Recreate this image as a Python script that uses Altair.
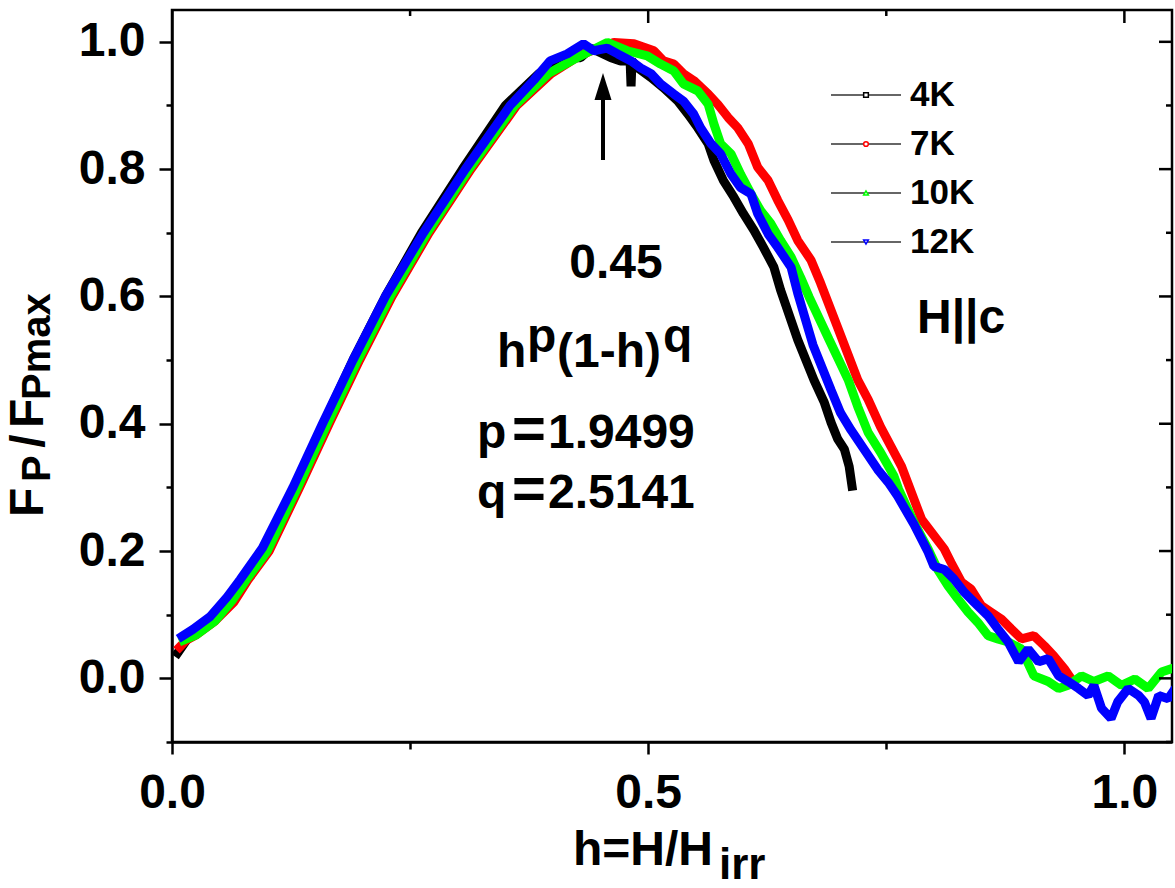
import altair as alt
import pandas as pd

FONT = "Liberation Sans"

# ---- data (h = H/Hirr, f = Fp/Fpmax) ----
h_4K = [0.006, 0.02, 0.04, 0.06, 0.075, 0.097, 0.128, 0.159, 0.19, 0.224, 0.262, 0.305, 0.35,
        0.385, 0.41, 0.429, 0.44, 0.461, 0.471, 0.481, 0.482, 0.483, 0.489, 0.503, 0.516, 0.531,
        0.542, 0.552, 0.563, 0.569, 0.579, 0.590, 0.600, 0.611, 0.621, 0.632, 0.639, 0.657,
        0.674, 0.685, 0.692, 0.699, 0.706, 0.711, 0.714]
f_4K = [0.04, 0.07, 0.095, 0.128, 0.155, 0.2, 0.3, 0.4, 0.5, 0.6, 0.7, 0.8, 0.9,
        0.95, 0.975, 0.975, 0.99, 0.975, 0.97, 0.97, 0.93, 0.97, 0.959, 0.944, 0.928, 0.907,
        0.886, 0.865, 0.840, 0.814, 0.782, 0.756, 0.730, 0.704, 0.677, 0.646, 0.610, 0.532,
        0.469, 0.433, 0.402, 0.376, 0.360, 0.333, 0.302]

h_7K = [0.008, 0.015, 0.025, 0.045, 0.065, 0.08, 0.102, 0.134, 0.165, 0.197, 0.231, 0.27, 0.314,
        0.362, 0.398, 0.43, 0.464, 0.485, 0.506, 0.516, 0.527, 0.537, 0.548, 0.563, 0.573,
        0.584, 0.594, 0.605, 0.615, 0.626, 0.636, 0.647, 0.657, 0.671, 0.681, 0.70, 0.720,
        0.731, 0.744, 0.755, 0.766, 0.787, 0.811, 0.818, 0.829, 0.839, 0.850, 0.860, 0.871,
        0.881, 0.892, 0.905, 0.916, 0.926, 0.937, 0.942]
f_7K = [0.049, 0.06, 0.068, 0.09, 0.12, 0.155, 0.2, 0.3, 0.4, 0.5, 0.6, 0.7, 0.8,
        0.9, 0.95, 0.98, 0.999, 0.997, 0.986, 0.970, 0.965, 0.950, 0.939, 0.918, 0.902,
        0.881, 0.865, 0.840, 0.803, 0.782, 0.751, 0.720, 0.688, 0.657, 0.621, 0.547, 0.469,
        0.438, 0.395, 0.364, 0.333, 0.25, 0.203, 0.182, 0.151, 0.140, 0.114, 0.104, 0.093,
        0.078, 0.062, 0.067, 0.051, 0.035, 0.015, 0.004]

h_10K = [0.012, 0.025, 0.045, 0.063, 0.078, 0.10, 0.132, 0.163, 0.195, 0.229, 0.268, 0.312, 0.36,
         0.395, 0.425, 0.457, 0.478, 0.499, 0.513, 0.527, 0.537, 0.552, 0.563, 0.569, 0.576,
         0.587, 0.597, 0.608, 0.618, 0.629, 0.639, 0.650, 0.660, 0.669, 0.690, 0.710, 0.720,
         0.731, 0.744, 0.758, 0.763, 0.779, 0.794, 0.804, 0.815, 0.825, 0.836, 0.846, 0.857,
         0.867, 0.878, 0.892, 0.905, 0.920, 0.931, 0.941, 0.955, 0.968, 0.983, 0.997, 1.011,
         1.025, 1.039, 1.049]
f_10K = [0.06, 0.068, 0.09, 0.122, 0.155, 0.2, 0.3, 0.4, 0.5, 0.6, 0.7, 0.8, 0.9,
         0.95, 0.975, 0.999, 0.986, 0.978, 0.965, 0.954, 0.934, 0.923, 0.902, 0.871, 0.840,
         0.824, 0.792, 0.761, 0.735, 0.714, 0.688, 0.662, 0.630, 0.599, 0.532, 0.469, 0.427,
         0.386, 0.355, 0.318, 0.297, 0.245, 0.203, 0.171, 0.145, 0.125, 0.104, 0.088, 0.067,
         0.062, 0.057, 0.046, 0.004, -0.005, -0.016, -0.011, 0.004, -0.005, 0.004, -0.011,
         -0.001, -0.016, 0.010, 0.015]

h_12K = [0.0105, 0.022, 0.04, 0.058, 0.0715, 0.095, 0.127, 0.158, 0.19, 0.224, 0.264, 0.308, 0.355,
         0.380, 0.397, 0.415, 0.432, 0.443, 0.457, 0.468, 0.482, 0.492, 0.503, 0.513, 0.527,
         0.537, 0.548, 0.555, 0.566, 0.576, 0.587, 0.597, 0.608, 0.615, 0.626, 0.636, 0.650,
         0.657, 0.673, 0.692, 0.702, 0.713, 0.727, 0.741, 0.752, 0.762, 0.779, 0.794, 0.800,
         0.811, 0.821, 0.832, 0.842, 0.857, 0.867, 0.878, 0.889, 0.899, 0.910, 0.920, 0.931,
         0.941, 0.952, 0.962, 0.968, 0.976, 0.986, 0.993, 1.004, 1.015, 1.021, 1.028, 1.036,
         1.046, 1.051]
f_12K = [0.066, 0.077, 0.097, 0.128, 0.155, 0.205, 0.3, 0.4, 0.5, 0.6, 0.7, 0.8, 0.9,
         0.94, 0.970, 0.981, 0.997, 0.986, 0.990, 0.981, 0.970, 0.959, 0.950, 0.934, 0.918,
         0.907, 0.886, 0.865, 0.840, 0.824, 0.792, 0.771, 0.761, 0.730, 0.698, 0.677, 0.646,
         0.605, 0.524, 0.453, 0.417, 0.390, 0.359, 0.328, 0.308, 0.286, 0.242, 0.198, 0.176,
         0.171, 0.156, 0.135, 0.120, 0.098, 0.078, 0.057, 0.026, 0.046, 0.026, 0.031, 0.004,
         -0.005, -0.016, -0.027, -0.011, -0.047, -0.063, -0.037, -0.016, -0.027, -0.037,
         -0.063, -0.027, -0.032, -0.021]

series = ["4K", "7K", "10K", "12K"]
colors = ["#000000", "#ff0000", "#00ff00", "#0000ff"]
shapes = ["square", "circle", "triangle-up", "triangle-down"]
curves = [(h_4K, f_4K), (h_7K, f_7K), (h_10K, f_10K), (h_12K, f_12K)]

x_ticks = [0.0, 0.25, 0.5, 0.75, 1.0]
y_ticks = [-0.1, 0.0, 0.1, 0.2, 0.3, 0.4, 0.5, 0.6, 0.7, 0.8, 0.9, 1.0]
x_major = [0.5, 1.0]
x_minor = [0.25, 0.75]
y_major = [0.0, 0.2, 0.4, 0.6, 0.8, 1.0]
y_minor = [-0.1, 0.1, 0.3, 0.5, 0.7, 0.9]

W, H = 1000, 732

xscale = alt.Scale(domain=[0, 1.05], nice=False, zero=False)
yscale = alt.Scale(domain=[-0.1, 1.05], nice=False, zero=False)

xm = "abs(datum.value*2-round(datum.value*2))<0.001"
ym = "abs(datum.value*5-round(datum.value*5))<0.001"

common_axis = dict(
    title=None, grid=False, domainColor="black", domainWidth=2.5,
    tickColor="black", tickWidth=2.5, labelFont=FONT, labelFontSize=48,
    labelFontWeight="bold", labelColor="black", labelOverlap=False, labelFlush=False,
)
xaxis = alt.Axis(values=x_ticks, labelExpr=f"{xm} ? format(datum.value, '.1f') : ''",
                 tickSize={"condition": {"test": xm, "value": 12}, "value": 7},
                 labelPadding=15, **common_axis)
yaxis = alt.Axis(values=y_ticks, labelExpr=f"{ym} ? format(datum.value, '.1f') : ''",
                 tickSize={"condition": {"test": ym, "value": 13}, "value": 6},
                 labelPadding=14, **common_axis)

layers = []
for (hh, ff), col in zip(curves, colors):
    df = pd.DataFrame({"h": hh, "f": ff, "i": list(range(len(hh)))})
    layers.append(
        alt.Chart(df).mark_line(color=col, strokeWidth=9, strokeJoin="bevel",
                                strokeCap="square", clip=True)
        .encode(x=alt.X("h:Q", scale=xscale, axis=xaxis),
                y=alt.Y("f:Q", scale=yscale, axis=yaxis),
                order="i:Q")
    )

# mirror ticks (top and right, inward)
for vals, ln in ((x_major, 13), (x_minor, 6)):
    layers.append(
        alt.Chart(pd.DataFrame({"h": vals})).mark_rule(color="black", strokeWidth=2.5)
        .encode(x=alt.X("h:Q", scale=xscale, axis=xaxis), y=alt.value(0), y2=alt.value(ln))
    )
for vals, ln in ((y_major, 13), (y_minor, 6)):
    layers.append(
        alt.Chart(pd.DataFrame({"f": vals})).mark_rule(color="black", strokeWidth=2.5)
        .encode(y=alt.Y("f:Q", scale=yscale, axis=yaxis), x=alt.value(W), x2=alt.value(W - ln))
    )

one = pd.DataFrame({"k": [0]})


def txt(s, x, y, size=48, align="left", baseline="alphabetic", angle=0):
    return alt.Chart(one).mark_text(
        text=s, align=align, baseline=baseline, angle=angle, font=FONT,
        fontSize=size, fontWeight="bold", color="black"
    ).encode(x=alt.value(x), y=alt.value(y))


# legend
leg_y = [85, 134, 183, 232]
for name, col, shp, ly in zip(series, colors, shapes, leg_y):
    layers.append(alt.Chart(one).mark_rule(color="#333333", strokeWidth=1.6)
                  .encode(x=alt.value(659), x2=alt.value(729), y=alt.value(ly)))
    layers.append(alt.Chart(one).mark_point(shape=shp, size=22, filled=True, fill="white",
                                            stroke=col, strokeWidth=1.5, opacity=1)
                  .encode(x=alt.value(694), y=alt.value(ly)))
    layers.append(txt(name, 738, ly, size=35, baseline="middle"))

# arrow
layers.append(alt.Chart(one).mark_rule(color="black", strokeWidth=4)
              .encode(x=alt.value(431), y=alt.value(88), y2=alt.value(150)))
layers.append(alt.Chart(one).mark_point(shape="M0,-1L0.63,1L-0.63,1Z", size=729, filled=True,
                                        color="black", opacity=1)
              .encode(x=alt.value(431), y=alt.value(76.5)))

# annotations
layers += [
    txt("0.45", 444, 268, align="center"),
    txt("h", 325, 357),
    txt("p", 355, 342),
    txt("(1-h)", 385, 357),
    txt("q", 491, 342),
    txt("p", 305, 438),
    txt("=", 357, 438, size=58, align="center"),
    txt("1.9499", 376, 438),
    txt("q", 305, 498),
    txt("=", 357, 498, size=58, align="center"),
    txt("2.5141", 376, 498),
    txt("H||c", 745, 323),
]

# axis titles with subscripts
layers += [
    txt("F", -129, 507, angle=270),
    txt("P", -122, 472, size=40, angle=270),
    txt("/", -128, 431, size=48, align="center", angle=270),
    txt("F", -129, 418, angle=270),
    txt("Pmax", -122, 390, size=40, angle=270),
    txt("h=H/H", 401, 855),
    txt("irr", 547, 869, size=44),
]

chart = alt.layer(*layers).properties(
    width=W, height=H,
    autosize=alt.AutoSizeParams(type="none"),
    padding={"left": 172, "top": 10, "right": 3, "bottom": 146},
    background="white",
).configure_view(stroke="black", strokeWidth=2.5)

chart.save("out.html", embed_options={"renderer": "svg", "actions": False})
